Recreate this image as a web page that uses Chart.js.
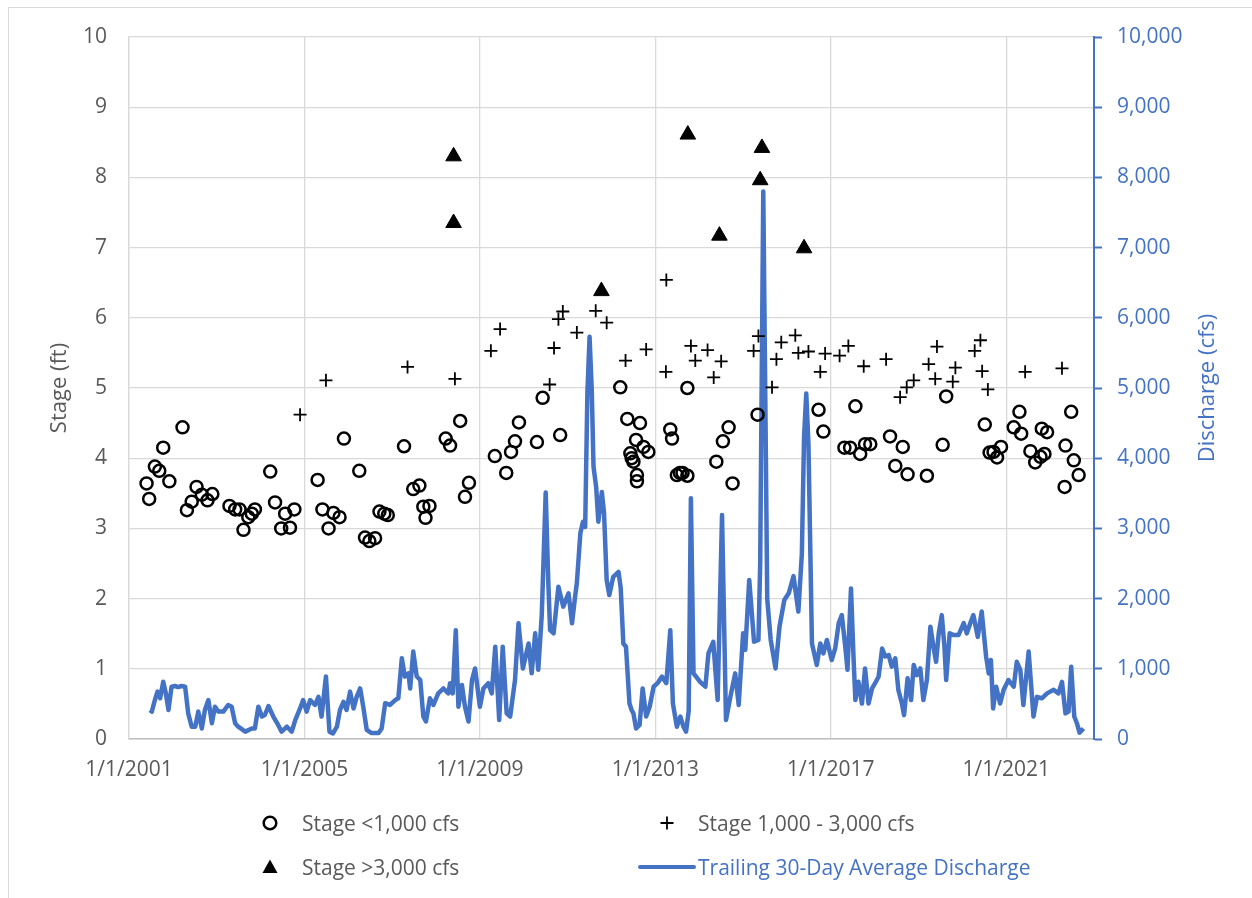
<!DOCTYPE html>
<html>
<head>
<meta charset="utf-8">
<script src="https://cdn.jsdelivr.net/npm/chart.js@4.4.1/dist/chart.umd.min.js"></script>
<style>
  html, body { margin: 0; padding: 0; background: #fff; overflow: hidden; }
  #wrap { position: relative; width: 1252px; height: 898px; font-family: "Open Sans", sans-serif; }
  #frame { position: absolute; left: 8px; top: 7px; width: 1400px; height: 1000px; border: 1.5px solid #d9d9d9; pointer-events: none; }
  .lg { position: absolute; font-size: 21px; color: #595959; line-height: 26px; white-space: nowrap; }
  .mk { position: absolute; }
</style>
</head>
<body>
<div id="wrap">
  <div id="frame"></div>
  <canvas id="chart" width="1252" height="898"></canvas>

  <svg class="mk" style="left:260px;top:813px" width="20" height="20"><circle cx="10" cy="10" r="6.3" fill="none" stroke="#000" stroke-width="2.5"/></svg>
  <div class="lg" style="left:302px;top:810px">Stage &lt;1,000 cfs</div>

  <svg class="mk" style="left:657px;top:813px" width="20" height="20"><path d="M3.5 10H16.5M10 3.5V16.5" stroke="#000" stroke-width="1.8"/></svg>
  <div class="lg" style="left:698px;top:810px">Stage 1,000 - 3,000 cfs</div>

  <svg class="mk" style="left:260px;top:857px" width="20" height="20"><path d="M10 2.5L17.5 16H2.5Z" fill="#000"/></svg>
  <div class="lg" style="left:302px;top:854px">Stage &gt;3,000 cfs</div>

  <svg class="mk" style="left:638px;top:857px" width="58" height="20"><path d="M2 10H56" stroke="#4472C4" stroke-width="4" stroke-linecap="round"/></svg>
  <div class="lg" style="left:698px;top:854px;color:#4472C4">Trailing 30-Day Average Discharge</div>
</div>
<script>
const blue = "#4472C4";
const grey = "#595959";

const tickYears = [2001, 2005, 2009, 2013, 2017, 2021];

// Stage readings when discharge < 1,000 cfs
const lowYears = [2001.40, 2001.46, 2001.59, 2001.69, 2001.78, 2001.92, 2002.22, 2002.32, 2002.43, 2002.54,
  2002.66, 2002.79, 2002.90, 2003.29, 2003.42, 2003.52, 2003.61, 2003.72, 2003.80, 2003.87,
  2004.22, 2004.33, 2004.47, 2004.56, 2004.67, 2004.77, 2005.30, 2005.41, 2005.55, 2005.66,
  2005.80, 2005.90, 2006.25, 2006.38, 2006.48, 2006.61, 2006.71, 2006.82, 2006.90, 2007.27,
  2007.48, 2007.62, 2007.71, 2007.85, 2007.76, 2008.22, 2008.32, 2008.55, 2008.66, 2008.75,
  2009.34, 2009.60, 2009.71, 2009.80, 2009.89, 2010.30, 2010.43, 2010.83, 2012.20, 2012.36,
  2012.65, 2012.56, 2012.43, 2012.46, 2012.50, 2012.73, 2012.84, 2012.58, 2012.58, 2013.34,
  2013.38, 2013.49, 2013.56, 2013.62, 2013.73, 2013.73, 2014.39, 2014.54, 2014.67, 2014.76,
  2015.33, 2016.72, 2016.83, 2017.31, 2017.44, 2017.56, 2017.67, 2017.78, 2017.90, 2018.35,
  2018.47, 2018.64, 2018.75, 2019.19, 2019.55, 2019.63, 2020.51, 2020.62, 2020.71, 2020.79,
  2020.88, 2021.17, 2021.30, 2021.34, 2021.55, 2021.66, 2021.78, 2021.81, 2021.87, 2021.93,
  2022.35, 2022.33, 2022.48, 2022.54, 2022.65];
const lowStage = [3.64, 3.42, 3.88, 3.82, 4.15, 3.67, 4.44, 3.26, 3.38, 3.59,
  3.48, 3.40, 3.49, 3.32, 3.27, 3.27, 2.98, 3.16, 3.21, 3.27,
  3.81, 3.37, 3.00, 3.21, 3.01, 3.27, 3.69, 3.27, 3.00, 3.22,
  3.16, 4.28, 3.82, 2.87, 2.82, 2.86, 3.24, 3.21, 3.19, 4.17,
  3.56, 3.61, 3.31, 3.32, 3.15, 4.28, 4.18, 4.53, 3.45, 3.65,
  4.03, 3.79, 4.09, 4.24, 4.51, 4.23, 4.86, 4.33, 5.01, 4.56,
  4.50, 4.26, 4.07, 4.00, 3.95, 4.16, 4.09, 3.76, 3.67, 4.41,
  4.28, 3.76, 3.79, 3.79, 3.75, 5.00, 3.95, 4.24, 4.44, 3.64,
  4.62, 4.69, 4.38, 4.15, 4.15, 4.74, 4.06, 4.20, 4.20, 4.31,
  3.89, 4.16, 3.77, 3.75, 4.19, 4.88, 4.48, 4.08, 4.09, 4.01,
  4.16, 4.44, 4.66, 4.35, 4.10, 3.94, 4.02, 4.42, 4.06, 4.37,
  4.18, 3.59, 4.66, 3.97, 3.76];

// Stage readings when discharge 1,000 - 3,000 cfs
const midYears = [2004.90, 2005.49, 2007.35, 2008.43, 2009.25, 2009.46, 2010.59, 2010.69, 2010.79, 2010.89,
  2011.21, 2011.64, 2011.89, 2012.32, 2012.79, 2013.24, 2013.25, 2013.81, 2013.91, 2014.19,
  2014.33, 2014.50, 2015.24, 2015.35, 2015.66, 2015.76, 2015.87, 2016.19, 2016.26, 2016.49,
  2016.76, 2016.87, 2017.20, 2017.40, 2017.75, 2018.26, 2018.58, 2018.73, 2018.89, 2019.23,
  2019.42, 2019.38, 2019.78, 2019.84, 2020.28, 2020.41, 2020.45, 2020.58, 2021.43, 2022.27];
const midStage = [4.62, 5.11, 5.30, 5.13, 5.53, 5.84, 5.05, 5.57, 5.98, 6.09,
  5.79, 6.10, 5.93, 5.39, 5.55, 5.23, 6.54, 5.60, 5.39, 5.54,
  5.15, 5.38, 5.53, 5.74, 5.01, 5.41, 5.65, 5.75, 5.50, 5.52,
  5.23, 5.49, 5.46, 5.60, 5.31, 5.41, 4.87, 5.01, 5.11, 5.34,
  5.59, 5.13, 5.09, 5.29, 5.53, 5.68, 5.24, 4.98, 5.23, 5.28];

// Stage readings when discharge > 3,000 cfs
const highYears = [2008.40, 2008.40, 2011.77, 2013.74, 2014.46, 2015.39, 2015.43, 2016.39];
const highStage = [8.30, 7.35, 6.38, 8.61, 7.17, 7.96, 8.42, 6.99];

// Trailing 30-day average discharge (cfs)
const flowYears = [2001.48, 2001.52, 2001.59, 2001.65, 2001.71, 2001.78, 2001.84, 2001.90, 2001.97, 2002.05,
  2002.12, 2002.20, 2002.28, 2002.35, 2002.43, 2002.51, 2002.58, 2002.66, 2002.73, 2002.81,
  2002.89, 2002.96, 2003.04, 2003.15, 2003.26, 2003.34, 2003.42, 2003.49, 2003.65, 2003.80,
  2003.87, 2003.95, 2004.03, 2004.10, 2004.18, 2004.29, 2004.40, 2004.48, 2004.60, 2004.71,
  2004.79, 2004.90, 2004.97, 2005.05, 2005.13, 2005.24, 2005.32, 2005.39, 2005.49, 2005.57,
  2005.65, 2005.74, 2005.81, 2005.89, 2005.96, 2006.04, 2006.12, 2006.19, 2006.27, 2006.34,
  2006.42, 2006.53, 2006.69, 2006.76, 2006.84, 2006.95, 2007.07, 2007.14, 2007.22, 2007.29,
  2007.37, 2007.41, 2007.48, 2007.56, 2007.64, 2007.71, 2007.77, 2007.86, 2007.94, 2008.05,
  2008.17, 2008.28, 2008.32, 2008.38, 2008.45, 2008.51, 2008.59, 2008.66, 2008.74, 2008.82,
  2008.89, 2009.00, 2009.08, 2009.19, 2009.27, 2009.35, 2009.44, 2009.52, 2009.61, 2009.69,
  2009.80, 2009.88, 2009.98, 2010.11, 2010.18, 2010.26, 2010.33, 2010.41, 2010.50, 2010.56,
  2010.60, 2010.68, 2010.79, 2010.90, 2011.02, 2011.10, 2011.17, 2011.21, 2011.29, 2011.35,
  2011.40, 2011.45, 2011.50, 2011.55, 2011.59, 2011.65, 2011.70, 2011.78, 2011.83, 2011.89,
  2011.95, 2012.04, 2012.16, 2012.21, 2012.27, 2012.33, 2012.41, 2012.46, 2012.50, 2012.56,
  2012.64, 2012.71, 2012.79, 2012.87, 2012.96, 2013.05, 2013.15, 2013.25, 2013.34, 2013.40,
  2013.49, 2013.57, 2013.64, 2013.70, 2013.76, 2013.81, 2013.87, 2014.02, 2014.14, 2014.21,
  2014.32, 2014.42, 2014.52, 2014.61, 2014.71, 2014.82, 2014.90, 2015.00, 2015.05, 2015.14,
  2015.25, 2015.35, 2015.39, 2015.46, 2015.52, 2015.55, 2015.63, 2015.74, 2015.83, 2015.94,
  2016.04, 2016.15, 2016.26, 2016.34, 2016.39, 2016.44, 2016.49, 2016.57, 2016.68, 2016.76,
  2016.83, 2016.91, 2017.02, 2017.10, 2017.18, 2017.25, 2017.33, 2017.38, 2017.46, 2017.52,
  2017.56, 2017.63, 2017.71, 2017.78, 2017.86, 2017.94, 2018.01, 2018.09, 2018.17, 2018.24,
  2018.32, 2018.39, 2018.47, 2018.54, 2018.62, 2018.67, 2018.75, 2018.83, 2018.89, 2018.96,
  2019.04, 2019.11, 2019.19, 2019.27, 2019.34, 2019.40, 2019.46, 2019.53, 2019.59, 2019.63,
  2019.71, 2019.80, 2019.91, 2020.03, 2020.10, 2020.18, 2020.25, 2020.35, 2020.44, 2020.54,
  2020.60, 2020.65, 2020.70, 2020.77, 2020.86, 2020.94, 2021.05, 2021.17, 2021.24, 2021.32,
  2021.39, 2021.51, 2021.62, 2021.70, 2021.81, 2021.93, 2022.08, 2022.19, 2022.27, 2022.35,
  2022.42, 2022.48, 2022.55, 2022.61, 2022.67, 2022.76];
const flowCfs = [413, 390, 555, 675, 580, 815, 650, 413, 745, 755,
  740, 755, 745, 365, 175, 175, 390, 150, 413, 555,
  225, 460, 390, 390, 485, 460, 225, 175, 105, 150,
  150, 460, 320, 345, 470, 320, 200, 105, 175, 105,
  270, 435, 555, 390, 555, 485, 600, 320, 890, 105,
  80, 175, 413, 530, 413, 675, 435, 600, 720, 460,
  130, 85, 85, 150, 510, 485, 555, 580, 1150, 890,
  935, 720, 1245, 890, 840, 320, 250, 580, 485, 650,
  720, 650, 795, 650, 1550, 460, 770, 460, 250, 840,
  1005, 460, 720, 795, 650, 1315, 270, 1315, 365, 320,
  840, 1650, 1005, 1360, 935, 1505, 985, 1765, 3510, 2220,
  1550, 1505, 2170, 1885, 2075, 1650, 2030, 2220, 2930, 3095,
  3020, 4925, 5730, 4970, 3880, 3590, 3095, 3520, 3215, 2265,
  2050, 2310, 2380, 2150, 1360, 1315, 505, 410, 365, 150,
  200, 720, 320, 460, 745, 795, 890, 795, 1550, 505,
  175, 320, 175, 105, 400, 3430, 935, 815, 745, 1220,
  1385, 555, 3190, 270, 600, 935, 485, 1505, 1270, 2265,
  1385, 1410, 2500, 7800, 4000, 2000, 1410, 1005, 1600, 1980,
  2075, 2320, 1815, 2645, 4300, 4920, 4200, 1360, 1055, 1360,
  1220, 1410, 1125, 1290, 1650, 1765, 1315, 985, 2145, 1125,
  555, 815, 505, 1005, 505, 720, 795, 890, 1290, 1175,
  1195, 1030, 1150, 700, 505, 340, 865, 555, 1055, 910,
  1005, 555, 840, 1600, 1315, 1100, 1505, 1765, 1315, 840,
  1505, 1480, 1480, 1650, 1505, 1650, 1765, 1455, 1815, 1175,
  935, 1125, 435, 745, 505, 700, 840, 745, 1100, 985,
  485, 1245, 320, 600, 580, 650, 700, 650, 815, 365,
  390, 1030, 320, 225, 90, 150];

const pts = (xs, ys) => xs.map((x, i) => ({ x: x, y: ys[i] }));

const rightTitle = {
  id: "rightTitle",
  afterDraw(chart) {
    const { ctx, chartArea } = chart;
    const axis = chart.scales.y2;
    ctx.save();
    ctx.translate(axis.left + 114, (chartArea.top + chartArea.bottom) / 2);
    ctx.rotate(-Math.PI / 2);
    ctx.font = '22px "Open Sans", sans-serif';
    ctx.fillStyle = blue;
    ctx.textAlign = "center";
    ctx.textBaseline = "middle";
    ctx.fillText("Discharge (cfs)", 0, 0);
    ctx.restore();
  },
};

Chart.defaults.font.family = '"Open Sans", sans-serif';
Chart.defaults.font.size = 21;
Chart.defaults.color = grey;

const config = {
  type: "scatter",
  data: {
    datasets: [
      {
        label: "Trailing 30-Day Average Discharge",
        data: pts(flowYears, flowCfs),
        yAxisID: "y2",
        showLine: true,
        borderColor: blue,
        borderWidth: 4.5,
        pointRadius: 0,
        tension: 0,
        borderJoinStyle: "round",
        order: 4,
      },
      {
        label: "Stage <1,000 cfs",
        data: pts(lowYears, lowStage),
        yAxisID: "y",
        pointStyle: "circle",
        pointRadius: 6,
        borderWidth: 2.5,
        borderColor: "#000",
        backgroundColor: "rgba(0,0,0,0)",
        order: 3,
      },
      {
        label: "Stage 1,000 - 3,000 cfs",
        data: pts(midYears, midStage),
        yAxisID: "y",
        pointStyle: "cross",
        pointRadius: 6.5,
        borderWidth: 1.8,
        borderColor: "#000",
        order: 2,
      },
      {
        label: "Stage >3,000 cfs",
        data: pts(highYears, highStage),
        yAxisID: "y",
        pointStyle: "triangle",
        pointRadius: 9,
        borderWidth: 1,
        borderColor: "#000",
        backgroundColor: "#000",
        order: 1,
      },
    ],
  },
  options: {
    responsive: false,
    animation: false,
    layout: { padding: { top: 37, left: 43, right: 0, bottom: 0 } },
    plugins: {
      legend: { display: false },
      tooltip: { enabled: false },
    },
    scales: {
      x: {
        type: "linear",
        min: 2001,
        max: 2023,
        afterBuildTicks: (axis) => { axis.ticks = tickYears.map((v) => ({ value: v })); },
        afterFit: (axis) => { axis.height = 159; },
        ticks: {
          color: grey,
          padding: 18,
          maxRotation: 0,
          callback: (v) => "1/1/" + v,
        },
        grid: { color: "#d9d9d9", lineWidth: 1.3, drawTicks: false },
        border: { color: "#bfbfbf", width: 1.5 },
      },
      y: {
        position: "left",
        min: 0,
        max: 10,
        afterFit: (axis) => { axis.width = 86; },
        ticks: { stepSize: 1, color: grey, padding: 22 },
        grid: { color: "#d9d9d9", lineWidth: 1.3, drawTicks: false },
        border: { color: "#d9d9d9", width: 1.3 },
        title: { display: true, text: "Stage (ft)", color: grey, font: { size: 22 } },
      },
      y2: {
        position: "right",
        min: 0,
        max: 10000,
        afterFit: (axis) => { axis.width = 158; },
        ticks: {
          stepSize: 1000,
          color: blue,
          padding: 15,
          callback: (v) => v.toLocaleString("en-US"),
        },
        grid: { drawOnChartArea: false, drawTicks: true, tickLength: 8, tickColor: blue, tickWidth: 2 },
        border: { color: blue, width: 2 },
      },
    },
  },
  plugins: [rightTitle],
};

new Chart(document.getElementById("chart"), config);
</script>
</body>
</html>
